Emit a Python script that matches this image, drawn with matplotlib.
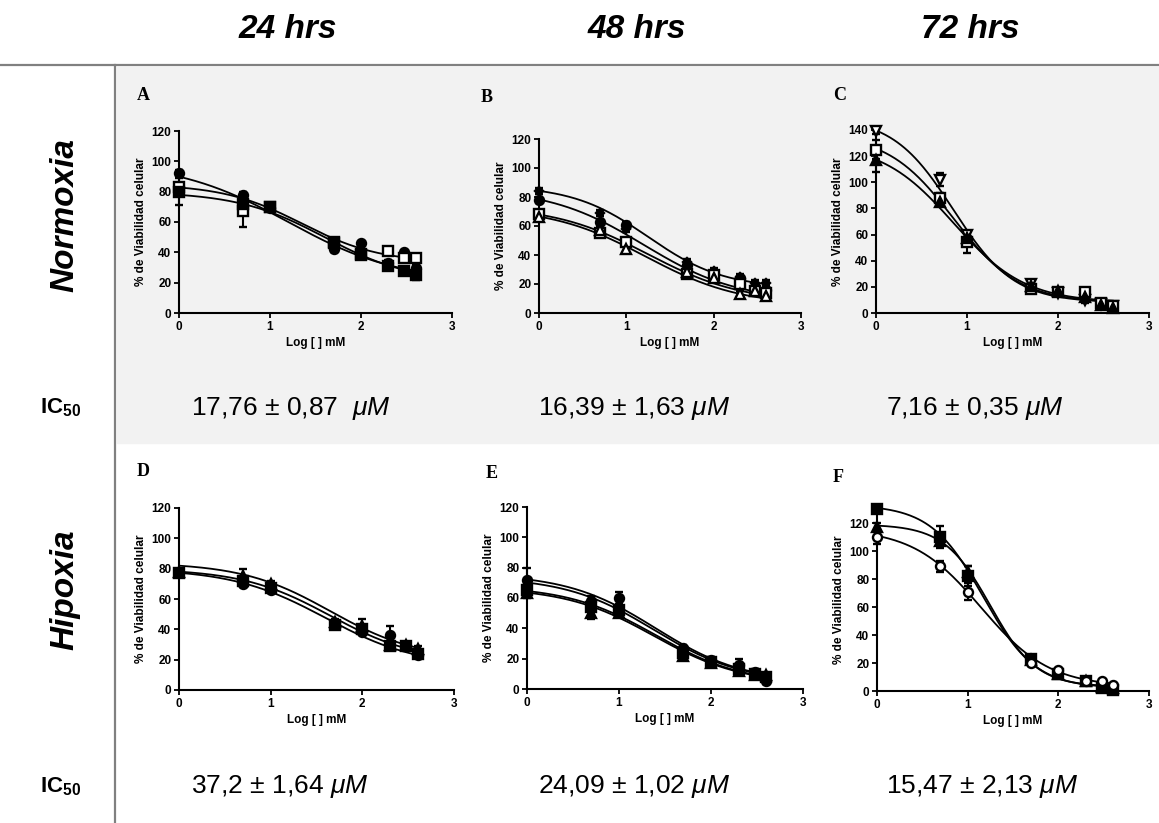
import numpy as np
import matplotlib.pyplot as plt
from matplotlib.patches import Rectangle
from matplotlib.lines import Line2D

plt.rcParams['font.family'] = ['Liberation Sans', 'DejaVu Sans']
plt.rcParams['mathtext.fontset'] = 'custom'
plt.rcParams['mathtext.rm'] = 'Liberation Sans'
plt.rcParams['mathtext.it'] = 'Liberation Sans:italic'
plt.rcParams['mathtext.bf'] = 'Liberation Sans:bold'

W, H = 1159, 823

# log concentration of each dose
log_conc = [0, 0.699, 1, 1.699, 2, 2.301, 2.477, 2.602]

# A - normoxia 24 h
a_circ = [92, 78, 69, 42, 46, 33, 40, 30]
a_osq = [83, 67, 70, 46, 39, 41, 36, 36]
a_sq = [80, 72, 70, 47, 38, 31, 28, 25]
a_circ_err = [2, 2, 2, 2, 1, 2, 1, 2]
a_osq_err = [3, 10, 2, 2, 2, 2, 2, 2]
a_sq_err = [9, 2, 2, 2, 2, 2, 2, 3]
a_fit = [(100, 20, 1.2, 0.7), (85, 33, 1.35, 1.0), (80, 20, 1.6, 0.9)]

# B - normoxia 48 h
b_dia = [84, 69, 58, 35, 29, 25, 21, 21]
b_circ = [78, 63, 61, 33, 27, 24, 18, 16]
b_osq = [68, 55, 49, 27, 26, 20, 15, 14]
b_otri = [66, 57, 44, 28, 24, 13, 15, 12]
b_err = [2, 2, 2, 2, 2, 2, 2, 2]
b_fit = [(88, 17, 1.25, 1.0), (86, 8, 1.2, 0.8), (74, 7, 1.25, 0.8), (73, 5, 1.22, 0.8)]

# C - normoxia 72 h
c_vtri = [139, 102, 60, 22, 15, 10, 7, 5]
c_osq = [125, 88, 54, 18, 16, 16, 8, 5]
c_tri = [117, 85, 57, 21, 17, 12, 6, 4]
c_vtri_err = [2, 5, 3, 2, 2, 2, 1, 1]
c_osq_err = [7, 4, 8, 2, 2, 2, 2, 2]
c_tri_err = [9, 3, 4, 2, 2, 2, 1, 1]
c_fit = [(150, 8, 0.85, 1.3), (137, 8, 0.85, 1.2), (130, 8, 0.85, 1.1)]

# D - hipoxia 24 h
d_circ = [78, 70, 66, 44, 38, 36, 29, 23]
d_tri = [78, 75, 70, 45, 42, 30, 30, 27]
d_sq = [77, 72, 67, 43, 40, 29, 29, 24]
d_circ_err = [2, 2, 2, 2, 2, 6, 1, 2]
d_tri_err = [2, 5, 2, 2, 5, 2, 1, 2]
d_sq_err = [2, 2, 2, 2, 2, 2, 1, 3]
d_fit = [(84, 20, 1.65, 0.9), (80, 18, 1.65, 0.9), (80, 15, 1.6, 0.85)]

# E - hipoxia 48 h
e_circ = [72, 58, 60, 27, 19, 16, 11, 5]
e_sq = [65, 54, 52, 24, 18, 13, 10, 8]
e_tri = [63, 50, 50, 22, 17, 12, 9, 9]
e_dia = [64, 52, 51, 23, 17, 12, 10, 7]
e_circ_err = [8, 3, 4, 2, 2, 4, 2, 2]
e_tri_err = [3, 4, 2, 2, 2, 2, 1, 1]
e_err = [2, 2, 2, 2, 2, 2, 1, 1]
e_fit = [(76, 4, 1.4, 0.9), (74, 4, 1.38, 0.9), (68, 3, 1.4, 0.9), (67, 3, 1.38, 0.9)]

# F - hipoxia 72 h
f_sq = [130, 110, 82, 23, 12, 7, 2, 1]
f_tri = [117, 107, 85, 22, 12, 7, 3, 2]
f_ocirc = [110, 89, 71, 20, 15, 7, 7, 4]
f_sq_err = [2, 8, 7, 2, 1, 1, 1, 1]
f_tri_err = [3, 3, 4, 2, 1, 1, 1, 1]
f_ocirc_err = [5, 4, 6, 2, 1, 1, 1, 1]
f_fit = [(133, 2, 1.17, 1.5), (119, 3, 1.25, 1.7), (116, 3, 1.15, 1.15)]

ic50_norm = ['17,76 ± 0,87  ', '16,39 ± 1,63 ', '7,16 ± 0,35 ']
ic50_hip = ['37,2 ± 1,64 ', '24,09 ± 1,02 ', '15,47 ± 2,13 ']
hours = ['24 hrs', '48 hrs', '72 hrs']


def fx(x):
    return x / W


def fy(y):
    return 1 - y / H


def four_pl(x, top, bottom, logec, hill):
    return bottom + (top - bottom) / (1 + 10 ** ((x - logec) * hill))


fig = plt.figure(figsize=(W / 100, H / 100), dpi=100)

# gray band behind the normoxia row
fig.patches.append(Rectangle((fx(117), fy(443)), fx(W - 117), (443 - 67) / H,
                             transform=fig.transFigure, color='#f2f2f2', zorder=-10))
fig.lines.append(Line2D([0, 1], [fy(65), fy(65)], transform=fig.transFigure,
                        color='#808080', lw=1.6, zorder=-5))
fig.lines.append(Line2D([fx(115), fx(115)], [fy(65), 0], transform=fig.transFigure,
                        color='#808080', lw=1.6, zorder=-5))

for xc, t in zip([288, 637, 970], hours):
    fig.text(fx(xc), fy(30), t, fontsize=24, fontweight='bold', style='italic',
             ha='center', va='center')
fig.text(fx(65), fy(215), 'Normoxia', fontsize=24, fontweight='bold', style='italic',
         rotation=90, ha='center', va='center')
fig.text(fx(65), fy(590), 'Hipoxia', fontsize=24, fontweight='bold', style='italic',
         rotation=90, ha='center', va='center')
for yc in [408, 787]:
    fig.text(fx(61), fy(yc), r'$\mathbf{IC}_\mathbf{50}$', fontsize=16,
             ha='center', va='center')

for xl, t in zip([191, 538, 886], ic50_norm):
    fig.text(fx(xl), fy(408), t + r'$\mathit{\mu M}$', fontsize=19, ha='left', va='center')
for xl, t in zip([191, 538, 886], ic50_hip):
    fig.text(fx(xl), fy(787), t + r'$\mathit{\mu M}$', fontsize=19, ha='left', va='center')

panels = [
    ('A', (179, 131, 452, 313), 120, (143, 95),
     [a_circ, a_osq, a_sq], [a_circ_err, a_osq_err, a_sq_err], a_fit,
     [('o', True), ('s', False), ('s', True)]),
    ('B', (539, 139, 801, 313), 120, (487, 97),
     [b_dia, b_circ, b_osq, b_otri], [b_err, b_err, b_err, b_err], b_fit,
     [('D', True), ('o', True), ('s', False), ('^', False)]),
    ('C', (876, 130, 1149, 313), 140, (840, 95),
     [c_vtri, c_osq, c_tri], [c_vtri_err, c_osq_err, c_tri_err], c_fit,
     [('v', False), ('s', False), ('^', True)]),
    ('D', (179, 508, 454, 690), 120, (143, 472),
     [d_circ, d_tri, d_sq], [d_circ_err, d_tri_err, d_sq_err], d_fit,
     [('o', True), ('^', True), ('s', True)]),
    ('E', (527, 507, 803, 689), 120, (492, 473),
     [e_circ, e_sq, e_tri, e_dia], [e_circ_err, e_err, e_tri_err, e_err], e_fit,
     [('o', True), ('s', True), ('^', True), ('D', True)]),
    ('F', (877, 509, 1149, 691), 130, (838, 477),
     [f_sq, f_tri, f_ocirc], [f_sq_err, f_tri_err, f_ocirc_err], f_fit,
     [('s', True), ('^', True), ('o', False)]),
]

xs = np.linspace(0, max(log_conc), 200)

for letter, (l, t, r, b), ytop, (lx, ly), series, errs, fits, styles in panels:
    ax = fig.add_axes([fx(l), fy(b), fx(r - l), (b - t) / H])
    ax.set_facecolor('none')
    for vals, err, fit, (mk, filled) in zip(series, errs, fits, styles):
        ax.plot(xs, four_pl(xs, *fit), color='black', lw=1.3, clip_on=False, zorder=2)
        ms = 4 if mk == 'D' else 6.5
        ax.errorbar(log_conc, vals, yerr=err, fmt=mk, ms=ms, mew=1.7,
                    mfc='black' if filled else 'white', mec='black', ecolor='black',
                    elinewidth=1.5, capsize=3, capthick=1.5, clip_on=False, zorder=3)
    ax.set_xlim(0, 3)
    ax.set_ylim(0, ytop)
    ax.set_xticks([0, 1, 2, 3])
    ax.set_yticks(np.arange(0, 121 if ytop < 140 else 141, 20))
    for s in ['top', 'right']:
        ax.spines[s].set_visible(False)
    for s in ['left', 'bottom']:
        ax.spines[s].set_linewidth(1.5)
    ax.tick_params(direction='out', length=3.5, width=1.3, labelsize=8.5, pad=2)
    for lab in ax.get_xticklabels() + ax.get_yticklabels():
        lab.set_fontweight('bold')
    ax.set_xlabel('Log [ ] mM', fontsize=8.5, fontweight='bold', labelpad=3)
    ax.set_ylabel('% de Viabilidad celular', fontsize=8.5, fontweight='bold', labelpad=3)
    fig.text(fx(lx), fy(ly), letter, family='Liberation Serif', fontsize=13,
             fontweight='bold', ha='center', va='center')

fig.savefig('out.png', dpi=100)
